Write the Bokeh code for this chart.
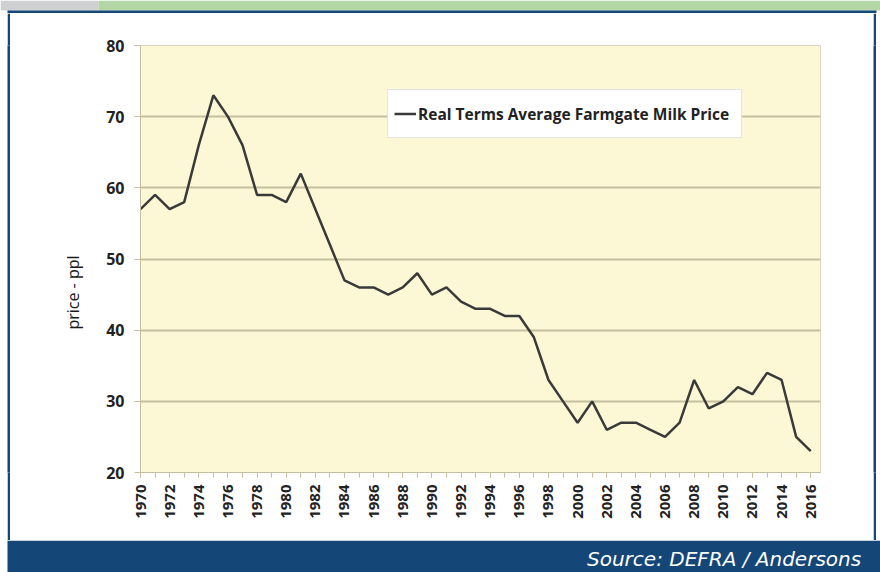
from math import pi
from bokeh.plotting import figure
from bokeh.layouts import column, row
from bokeh.models import Range1d, FixedTicker, Legend, LegendItem, Label, BoxAnnotation, Spacer
from bokeh.embed import file_html
from bokeh.resources import INLINE

# ---- data ----
years = list(range(1970, 2017))
price = [57, 59, 57, 58, 66, 73, 70, 66, 59, 59,
         58, 62, 57, 52, 47, 46, 46, 45, 46, 48,
         45, 46, 44, 43, 43, 42, 42, 39, 33, 30,
         27, 30, 26, 27, 27, 26, 25, 27, 33, 29,
         30, 32, 31, 34, 33, 25, 23]
y_ticks = [20, 30, 40, 50, 60, 70, 80]
x_label_years = [y for y in years if y % 2 == 0]
series_label = "Real Terms Average Farmgate Milk Price"
y_label = "price - ppl"
source_text = "Source:  DEFRA / Andersons"

# ---- styles ----
BLUE = "#144677"
GREEN = "#b4d5a6"
GREY = "#cfd0d2"
GRID = "#c4bf9f"
PAGE_W, PAGE_H = 880, 572
TOP_H, MID_H = 13, 527
BOT_H = PAGE_H - TOP_H - MID_H
FRAME_L, FRAME_R, FRAME_T, FRAME_B = 140, 820, 45, 472


def decor(x0, y0, w, h, **kw):
    """Blank figure whose data units equal page pixels (y negated)."""
    opts = dict(width=w, height=h, output_backend="svg", toolbar_location=None,
                x_range=Range1d(x0, x0 + w), y_range=Range1d(-(y0 + h), -y0),
                x_axis_type=None, y_axis_type=None, min_border=0,
                background_fill_color="white", border_fill_color="white",
                outline_line_color=None)
    opts.update(kw)
    return figure(**opts)


def band(f, x0, x1, y0, y1, color):
    f.add_layout(BoxAnnotation(left=x0, right=x1, top=-y0, bottom=-y1,
                               fill_color=color, fill_alpha=1, line_alpha=0))


def blue_bar(w, h):
    return figure(width=w, height=h, output_backend="svg", toolbar_location=None,
                  x_axis_type=None, y_axis_type=None, min_border=0,
                  background_fill_color=BLUE, border_fill_color=BLUE,
                  outline_line_color=None)


# top strip + top blue border
top = decor(0, 0, PAGE_W, TOP_H)
band(top, 0, 98, 0, 10, GREY)
band(top, 98, PAGE_W, 0, 10, GREEN)
band(top, 7, 876, 10, 13, BLUE)

# y axis title column (frame matches the chart frame vertically)
ylab = figure(width=80, height=MID_H, output_backend="svg", toolbar_location=None,
              x_range=Range1d(10, 90), y_range=Range1d(-FRAME_B, -FRAME_T),
              x_axis_type=None, y_axis_type=None,
              min_border_left=0, min_border_right=0,
              min_border_top=FRAME_T - TOP_H, min_border_bottom=TOP_H + MID_H - FRAME_B,
              background_fill_color="white", border_fill_color="white",
              outline_line_color=None)
ylab.add_layout(Label(x=72, y=-292, text=y_label, angle=pi / 2,
                      text_align="center", text_baseline="middle",
                      text_font="Open Sans", text_font_size="16px",
                      text_color="#1a1a1a"))

# main chart: frame at page x 140..820, y 45..472
MAIN_X0 = 90
MAIN_W = 873 - MAIN_X0
p = figure(width=MAIN_W, height=MID_H, output_backend="svg", toolbar_location=None,
           x_range=Range1d(1970, 2016.67), y_range=Range1d(20, 80),
           min_border_left=FRAME_L - MAIN_X0, min_border_right=873 - FRAME_R,
           min_border_top=FRAME_T - TOP_H, min_border_bottom=TOP_H + MID_H - FRAME_B,
           background_fill_color="#fcf8d6", border_fill_color="white",
           outline_line_color="#d9d6bd", outline_line_width=1)

r = p.line(years, price, line_color="#3a3a3a", line_width=2.5)

p.xaxis.ticker = FixedTicker(ticks=x_label_years, minor_ticks=years)
p.xaxis.major_label_orientation = pi / 2
p.xaxis.major_label_text_font = "Open Sans"
p.xaxis.major_label_text_font_style = "bold"
p.xaxis.major_label_text_font_size = "15px"
p.xaxis.major_label_text_color = "#222222"
p.xaxis.major_label_standoff = 7
p.xaxis.axis_line_color = GRID
p.xaxis.major_tick_line_color = GRID
p.xaxis.minor_tick_line_color = GRID
p.xaxis.major_tick_in = 0
p.xaxis.major_tick_out = 5
p.xaxis.minor_tick_in = 0
p.xaxis.minor_tick_out = 5

p.yaxis.ticker = FixedTicker(ticks=y_ticks)
p.yaxis.major_label_text_font = "Open Sans"
p.yaxis.major_label_text_font_style = "bold"
p.yaxis.major_label_text_font_size = "16px"
p.yaxis.major_label_text_color = "#222222"
p.yaxis.major_label_standoff = 10
p.yaxis.axis_line_color = GRID
p.yaxis.major_tick_line_color = GRID
p.yaxis.major_tick_in = 0
p.yaxis.major_tick_out = 6
p.yaxis.minor_tick_line_color = None

p.xgrid.visible = False
p.ygrid.ticker = FixedTicker(ticks=y_ticks)
p.ygrid.grid_line_color = GRID
p.ygrid.grid_line_width = 1.8

legend = Legend(items=[LegendItem(label=series_label, renderers=[r])],
                location=(387 - FRAME_L, FRAME_B - 138),
                background_fill_color="white", background_fill_alpha=1,
                border_line_color="#c8c8c8", border_line_width=1,
                padding=6, margin=0, spacing=0,
                glyph_width=22, glyph_height=35, label_height=35,
                label_width=317, label_standoff=2,
                label_text_font="Open Sans", label_text_font_style="bold",
                label_text_font_size="15.5px", label_text_color="#222222")
p.add_layout(legend)

# bottom band with source
bottom = decor(0, TOP_H + MID_H, PAGE_W, BOT_H)
band(bottom, 7, PAGE_W, TOP_H + MID_H, PAGE_H, BLUE)
bottom.add_layout(Label(x=867, y=-558, text=source_text, text_align="right",
                        text_baseline="alphabetic", text_font="DejaVu Sans",
                        text_font_style="italic", text_font_size="20px",
                        text_color="white"))

middle = row(Spacer(width=7, height=MID_H), blue_bar(3, MID_H), ylab, p,
             blue_bar(3, MID_H), Spacer(width=4, height=MID_H), spacing=0)
layout = column(top, middle, bottom, spacing=0)

open("out.html", "w").write(file_html(layout, INLINE))
